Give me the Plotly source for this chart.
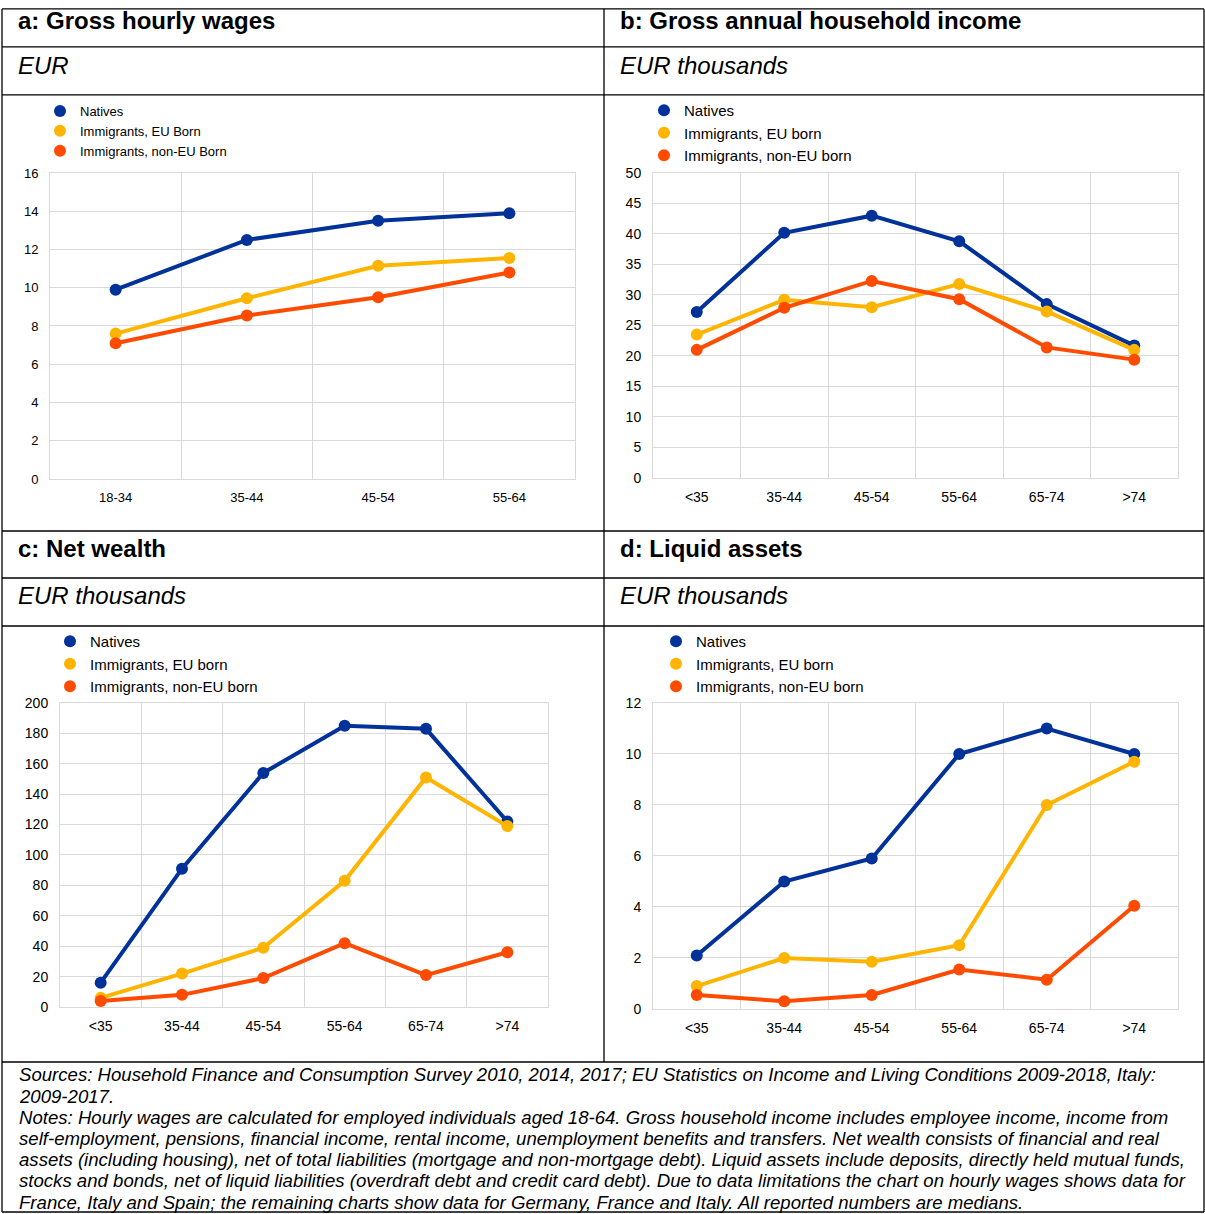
import plotly.graph_objects as go

W, H = 1205, 1214
cats_a = ["18-34", "35-44", "45-54", "55-64"]
cats_b = ["<35", "35-44", "45-54", "55-64", "65-74", ">74"]
a_nat = [9.9, 12.5, 13.5, 13.9]
a_eu = [7.6, 9.45, 11.15, 11.55]
a_non = [7.1, 8.55, 9.5, 10.8]
b_nat = [27.2, 40.2, 43.0, 38.8, 28.5, 21.7]
b_eu = [23.5, 29.2, 28.0, 31.8, 27.3, 21.0]
b_non = [21.0, 27.9, 32.3, 29.3, 21.4, 19.4]
c_nat = [16, 91, 154, 185, 183, 122]
c_eu = [6, 22, 39, 83, 151, 119]
c_non = [4, 8, 19, 42, 21, 36]
d_nat = [2.1, 5.0, 5.9, 10.0, 11.0, 10.0]
d_eu = [0.9, 2.0, 1.85, 2.5, 8.0, 9.7]
d_non = [0.55, 0.3, 0.55, 1.55, 1.15, 4.05]

BLUE, YEL, ORG = "#003299", "#FFB400", "#FF4B00"
FONT = "Liberation Sans"

fig = go.Figure()
px = lambda x: x / W
py = lambda y: 1 - ((y - 8.03) / 0.9868) / H

panels = [
    dict(cats=cats_a, data=[a_nat, a_eu, a_non], names=["Natives", "Immigrants, EU Born", "Immigrants, non-EU Born"],
         box=(50, 173, 575, 479), rng=16, dt=2, leg=(40, 96), lf=13, tf=13),
    dict(cats=cats_b, data=[b_nat, b_eu, b_non], names=["Natives", "Immigrants, EU born", "Immigrants, non-EU born"],
         box=(653, 173, 1178, 478), rng=50, dt=5, leg=(644, 94), lf=15, tf=14),
    dict(cats=cats_b, data=[c_nat, c_eu, c_non], names=["Natives", "Immigrants, EU born", "Immigrants, non-EU born"],
         box=(60, 703, 548, 1007), rng=200, dt=20, leg=(50, 625), lf=15, tf=14),
    dict(cats=cats_b, data=[d_nat, d_eu, d_non], names=["Natives", "Immigrants, EU born", "Immigrants, non-EU born"],
         box=(653, 703, 1178, 1009), rng=12, dt=2, leg=(656, 625), lf=15, tf=14),
]
layout = {}
for i, p in enumerate(panels):
    n = i + 1
    sfx = "" if n == 1 else str(n)
    lg = "legend" if n == 1 else f"legend{n}"
    x0, y0, x1, y1 = p["box"]
    N = len(p["cats"])
    for vals, nm, col in zip(p["data"], p["names"], [BLUE, YEL, ORG]):
        fig.add_trace(go.Scatter(x=list(range(N)), y=vals, name=nm, mode="lines+markers",
                                 line=dict(color=col, width=4), marker=dict(size=12, color=col),
                                 xaxis="x" + sfx, yaxis="y" + sfx, showlegend=False))
        fig.add_trace(go.Scatter(x=[None], y=[None], name=nm, mode="markers",
                                 marker=dict(size=12, color=col),
                                 xaxis="x" + sfx, yaxis="y" + sfx, legend=lg))
    layout["xaxis" + sfx] = dict(domain=[px(x0), px(x1)], anchor="y" + sfx, range=[-0.5, N - 0.5],
                                 tickvals=list(range(N)), ticktext=p["cats"], showgrid=False,
                                 minor=dict(tickvals=[k + 0.5 for k in range(N - 1)], showgrid=True, gridcolor="#d9d9d9", ticklen=0),
                                 showline=True, linecolor="#d9d9d9", mirror=True, zeroline=False,
                                 ticklabelstandoff=6,
                                 tickfont=dict(size=p["tf"], family=FONT, color="#000"), fixedrange=True)
    layout["yaxis" + sfx] = dict(domain=[py(y1), py(y0)], anchor="x" + sfx, range=[0, p["rng"]], dtick=p["dt"],
                                 gridcolor="#d9d9d9", showline=True, linecolor="#d9d9d9", mirror=True, zeroline=False,
                                 tickfont=dict(size=p["tf"], family=FONT, color="#000"), ticklabelstandoff=8)
    layout[lg] = dict(x=px(p["leg"][0]), y=py(p["leg"][1]), xanchor="left", yanchor="top",
                      font=dict(size=p["lf"], family=FONT, color="#000"), bgcolor="rgba(0,0,0,0)",
                      tracegroupgap=0, itemwidth=30)

fig.update_layout(width=W, height=H, margin=dict(l=0, r=0, t=0, b=0), paper_bgcolor="white",
                  plot_bgcolor="white", showlegend=True, **layout)

shapes = []
def ln(xa, ya, xb, yb):
    shapes.append(dict(type="line", xref="paper", yref="paper", x0=px(xa), y0=py(ya), x1=px(xb), y1=py(yb),
                       line=dict(color="black", width=1.3)))
for y in [9, 47, 95, 531, 578, 626, 1062, 1212]:
    ln(2, y, 1204, y)
ln(2, 9, 2, 1212); ln(1204, 9, 1204, 1212); ln(604, 9, 604, 1062)
fig.update_layout(shapes=shapes)

ann = []
def txt(x, y, s, size, bold=False, ital=False):
    if bold: s = "<b>" + s + "</b>"
    if ital: s = "<i>" + s + "</i>"
    ann.append(dict(xref="paper", yref="paper", x=px(x), y=py(y), text=s, showarrow=False, xanchor="left",
                    yanchor="middle", font=dict(size=size, family=FONT, color="black"), align="left"))
txt(16, 21, "a: Gross hourly wages", 24, bold=True)
txt(618, 21, "b: Gross annual household income", 24, bold=True)
txt(16, 549, "c: Net wealth", 24, bold=True)
txt(618, 549, "d: Liquid assets", 24, bold=True)
for x, y in [(16, 66), (618, 66), (16, 596), (618, 596)]:
    txt(x, y, "EUR" if (x, y) == (16, 66) else "EUR thousands", 24, ital=True)

foot = [
    "Sources: Household Finance and Consumption Survey 2010, 2014, 2017; EU Statistics on Income and Living Conditions 2009-2018, Italy:",
    "2009-2017.",
    "Notes: Hourly wages are calculated for employed individuals aged 18-64. Gross household income includes employee income, income from",
    "self-employment, pensions, financial income, rental income, unemployment benefits and transfers. Net wealth consists of financial and real",
    "assets (including housing), net of total liabilities (mortgage and non-mortgage debt). Liquid assets include deposits, directly held mutual funds,",
    "stocks and bonds, net of liquid liabilities (overdraft debt and credit card debt). Due to data limitations the chart on hourly wages shows data for",
    "France, Italy and Spain; the remaining charts show data for Germany, France and Italy. All reported numbers are medians.",
]
for k, s in enumerate(foot):
    txt(17, 1075 + k * 21.2, s, 18.6, ital=True)
fig.update_layout(annotations=ann)
fig.write_html("out.html", config=dict(displayModeBar=False))

with open("out.html", encoding="utf-8") as f:
    html = f.read()
html = html.replace("<head>", "<head><style>html,body{margin:0;padding:0;overflow:hidden;}</style>", 1)
with open("out.html", "w", encoding="utf-8") as f:
    f.write(html)
